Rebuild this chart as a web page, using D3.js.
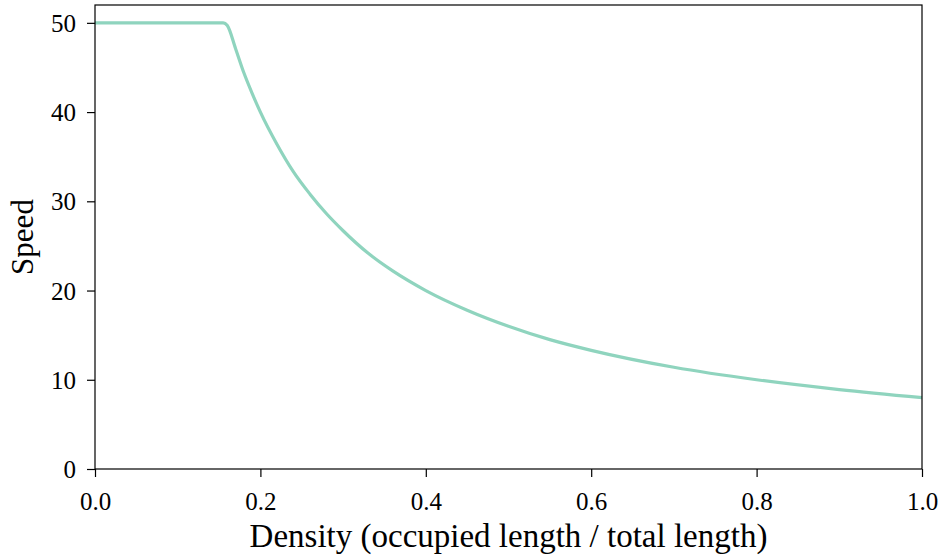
<!DOCTYPE html>
<html><head><meta charset="utf-8">
<script src="https://cdn.jsdelivr.net/npm/d3@7"></script>
<style>body{margin:0;background:#fff}svg{display:block}</style>
</head><body>
<svg id="chart" width="945" height="556"></svg>
<script>
const density = [0, 0.155, 0.16, 0.17, 0.18, 0.19, 0.2, 0.22, 0.24, 0.26, 0.28, 0.3, 0.33, 0.36, 0.4, 0.45, 0.5, 0.55, 0.6, 0.7, 0.8, 0.9, 1.0];
const speed   = [50, 50, 49.7, 47.1, 44.4, 42.1, 40, 36.4, 33.3, 30.8, 28.6, 26.7, 24.2, 22.2, 20, 17.8, 16, 14.5, 13.3, 11.4, 10, 8.9, 8.0];
const xTicks = [0, 0.2, 0.4, 0.6, 0.8, 1.0];
const yTicks = [0, 10, 20, 30, 40, 50];
const xLabel = "Density (occupied length / total length)";
const yLabel = "Speed";

const W = 945, H = 556;
const m = {left: 95, right: 922, top: 5, bottom: 469};
const font = "'Liberation Serif', 'DejaVu Serif', serif";
const svg = d3.select("#chart");
const x = d3.scaleLinear().domain([0, 1]).range([m.left, m.right]);
const y = d3.scaleLinear().domain([0, 52]).range([m.bottom, m.top]);

const xAxis = svg.append("g").attr("transform", `translate(0,${m.bottom})`)
  .call(d3.axisBottom(x).tickValues(xTicks).tickFormat(d3.format(".1f")).tickSize(8).tickPadding(9));
const yAxis = svg.append("g").attr("transform", `translate(${m.left},0)`)
  .call(d3.axisLeft(y).tickValues(yTicks).tickFormat(d3.format("d")).tickSize(8).tickPadding(11));
[xAxis, yAxis].forEach(g => {
  g.select(".domain").remove();
  g.selectAll(".tick line").attr("stroke", "#000").attr("stroke-width", 1.2);
  g.selectAll(".tick text").attr("fill", "#000").style("font-family", font).style("font-size", "25px");
});
yAxis.selectAll(".tick text").attr("dy", "0.34em");
xAxis.selectAll(".tick text").attr("dy", "0.95em");

const data = density.map((d, i) => [d, speed[i]]);
svg.append("path").datum(data)
  .attr("fill", "none").attr("stroke", "#8fd4be").attr("stroke-width", 3.2)
  .attr("stroke-linejoin", "round")
  .attr("d", d3.line().x(d => x(d[0])).y(d => y(d[1])).curve(d3.curveMonotoneX));

svg.append("rect").attr("x", m.left).attr("y", m.top)
  .attr("width", m.right - m.left).attr("height", m.bottom - m.top)
  .attr("fill", "none").attr("stroke", "#000").attr("stroke-width", 1.2);

svg.append("text").attr("x", (m.left + m.right) / 2).attr("y", 547)
  .attr("text-anchor", "middle").style("font-family", font).style("font-size", "33px")
  .text(xLabel);
svg.append("text").attr("transform", `translate(33,${(m.top + m.bottom) / 2}) rotate(-90)`)
  .attr("text-anchor", "middle").style("font-family", font).style("font-size", "31px")
  .text(yLabel);
</script>
</body></html>
